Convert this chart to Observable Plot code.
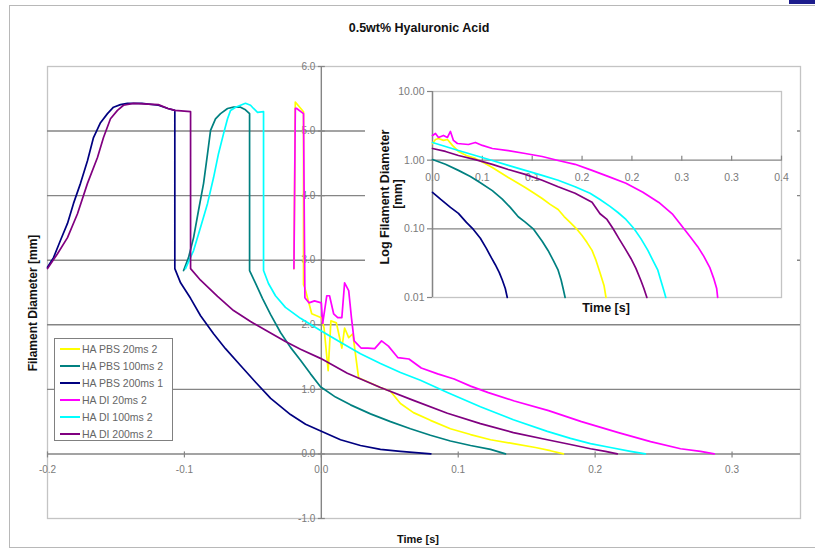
<!DOCTYPE html>
<html>
<head>
<meta charset="utf-8">
<script src="https://cdn.jsdelivr.net/npm/d3@7"></script>
<script src="https://cdn.jsdelivr.net/npm/@observablehq/plot@0.6"></script>
<style>
  html, body { margin: 0; padding: 0; background: #fff; }
  #wrap { position: relative; width: 815px; height: 550px; overflow: hidden; font-family: "Liberation Sans", Arial, sans-serif; }
  .lbl { position: absolute; white-space: nowrap; transform: translate(-50%, -50%); color: #111; font-weight: bold; font-size: 10.5px; }
  .rot { transform: translate(-50%, -50%) rotate(-90deg); }
  #legend { position: absolute; left: 54px; top: 338px; width: 119px; height: 103px; border: 1px solid #808080; background: #fff; box-sizing: border-box; }
  .li { position: absolute; left: 0; height: 14px; width: 118px; }
  .li .sw { position: absolute; left: 5px; top: 6px; width: 20px; height: 2px; }
  .li .tx { position: absolute; left: 27px; top: 0; font-size: 10.5px; line-height: 14px; color: #666; white-space: nowrap; }
</style>
</head>
<body>
<div id="wrap"></div>
<script>
// ---------- data ----------
const chartTitle = "0.5wt% Hyaluronic Acid";
const seriesNames = ["HA PBS 20ms 2", "HA PBS 100ms 2", "HA PBS 200ms 1", "HA DI 20ms 2", "HA DI 100ms 2", "HA DI 200ms 2"];
const seriesColors = ["#ffff00", "#008080", "#000080", "#ff00ff", "#00ffff", "#800080"];

// main chart: [time s, diameter mm]
const haPbs20 = [[-0.0200,2.87],[-0.0190,5.45],[-0.0170,5.40],[-0.0130,5.30],[-0.0130,2.62],[-0.0120,2.57],[-0.0070,2.17],[0.0000,2.11],[0.0020,1.95],[0.0050,1.29],[0.0070,2.06],[0.0110,2.03],[0.0150,1.64],[0.0170,1.95],[0.0200,1.80],[0.0230,1.86],[0.0272,1.18],[0.0432,1.03],[0.0505,0.97],[0.0578,0.78],[0.0673,0.64],[0.0797,0.52],[0.0943,0.39],[0.1090,0.30],[0.1236,0.22],[0.1403,0.16],[0.1564,0.10],[0.1673,0.05],[0.1768,0.00]];
const haPbs100 = [[-0.1006,2.84],[-0.0970,3.04],[-0.0933,3.35],[-0.0897,3.77],[-0.0860,4.19],[-0.0831,4.65],[-0.0809,5.01],[-0.0773,5.19],[-0.0736,5.27],[-0.0685,5.35],[-0.0641,5.37],[-0.0590,5.37],[-0.0554,5.33],[-0.0524,5.27],[-0.0524,2.84],[-0.0480,2.64],[-0.0430,2.41],[-0.0371,2.16],[-0.0298,1.88],[-0.0225,1.65],[-0.0152,1.45],[-0.0079,1.24],[-0.0006,1.04],[0.0104,0.88],[0.0213,0.76],[0.0359,0.62],[0.0505,0.50],[0.0651,0.39],[0.0797,0.29],[0.0943,0.20],[0.1090,0.13],[0.1236,0.07],[0.1345,0.00]];
const haPbs200 = [[-0.2000,2.89],[-0.1956,3.04],[-0.1905,3.31],[-0.1854,3.57],[-0.1810,3.88],[-0.1759,4.19],[-0.1708,4.54],[-0.1664,4.90],[-0.1613,5.13],[-0.1562,5.27],[-0.1518,5.37],[-0.1467,5.41],[-0.1416,5.43],[-0.1310,5.43],[-0.1190,5.40],[-0.1120,5.35],[-0.1070,5.32],[-0.1070,2.87],[-0.1028,2.65],[-0.0955,2.41],[-0.0882,2.14],[-0.0787,1.86],[-0.0700,1.63],[-0.0590,1.37],[-0.0480,1.11],[-0.0370,0.86],[-0.0225,0.61],[-0.0115,0.46],[0.0000,0.35],[0.0140,0.22],[0.0286,0.13],[0.0432,0.07],[0.0578,0.04],[0.0800,0.00]];
const haDi20 = [[-0.0200,2.87],[-0.0190,5.35],[-0.0180,5.35],[-0.0130,5.27],[-0.0120,2.42],[-0.0090,2.34],[-0.0050,2.37],[0.0000,2.34],[0.0010,2.02],[0.0040,2.45],[0.0060,2.45],[0.0090,2.17],[0.0120,2.11],[0.0150,2.11],[0.0170,2.65],[0.0200,2.53],[0.0220,2.11],[0.0240,1.75],[0.0290,1.64],[0.0340,1.64],[0.0390,1.63],[0.0440,1.75],[0.0490,1.67],[0.0560,1.49],[0.0640,1.47],[0.0730,1.33],[0.0850,1.24],[0.0970,1.16],[0.1090,1.05],[0.1220,0.95],[0.1410,0.82],[0.1660,0.67],[0.1900,0.50],[0.2170,0.33],[0.2405,0.19],[0.2624,0.08],[0.2770,0.04],[0.2870,0.00]];
const haDi100 = [[-0.0992,2.87],[-0.0933,3.15],[-0.0882,3.51],[-0.0831,3.88],[-0.0787,4.28],[-0.0751,4.65],[-0.0714,4.96],[-0.0685,5.19],[-0.0663,5.32],[-0.0626,5.37],[-0.0590,5.40],[-0.0554,5.43],[-0.0517,5.40],[-0.0495,5.35],[-0.0466,5.29],[-0.0422,5.30],[-0.0422,2.84],[-0.0386,2.64],[-0.0335,2.45],[-0.0262,2.27],[-0.0152,2.10],[-0.0006,1.91],[0.0140,1.73],[0.0286,1.55],[0.0432,1.40],[0.0578,1.26],[0.0724,1.14],[0.0921,0.95],[0.1162,0.73],[0.1403,0.53],[0.1651,0.35],[0.1820,0.24],[0.1966,0.16],[0.2112,0.10],[0.2258,0.04],[0.2367,0.00]];
const haDi200 = [[-0.2000,2.87],[-0.1927,3.10],[-0.1854,3.35],[-0.1781,3.72],[-0.1708,4.19],[-0.1635,4.59],[-0.1591,4.90],[-0.1540,5.19],[-0.1489,5.32],[-0.1445,5.40],[-0.1372,5.43],[-0.1190,5.41],[-0.1120,5.35],[-0.1070,5.32],[-0.0955,5.30],[-0.0955,2.87],[-0.0882,2.69],[-0.0758,2.44],[-0.0641,2.22],[-0.0517,2.05],[-0.0393,1.90],[-0.0262,1.74],[-0.0152,1.62],[-0.0006,1.48],[0.0190,1.25],[0.0432,1.03],[0.0673,0.83],[0.0921,0.63],[0.1162,0.47],[0.1403,0.33],[0.1651,0.22],[0.1820,0.146],[0.1966,0.08],[0.2075,0.04],[0.2162,0.00]];

// inset (log) chart: [time s, diameter mm]
const logPbs20 = [[0.000,1.75],[0.003,2.00],[0.006,2.07],[0.011,1.94],[0.015,2.00],[0.020,1.64],[0.026,1.34],[0.034,1.17],[0.043,1.06],[0.051,0.925],[0.060,0.78],[0.068,0.66],[0.076,0.56],[0.085,0.47],[0.093,0.40],[0.102,0.33],[0.110,0.277],[0.118,0.227],[0.126,0.191],[0.132,0.151],[0.138,0.124],[0.145,0.098],[0.150,0.080],[0.155,0.063],[0.160,0.0485],[0.164,0.0347],[0.168,0.023],[0.172,0.015],[0.174,0.010]];
const logPbs100 = [[0.000,1.02],[0.013,0.87],[0.026,0.71],[0.038,0.58],[0.048,0.47],[0.060,0.36],[0.070,0.27],[0.078,0.205],[0.086,0.15],[0.093,0.125],[0.101,0.100],[0.110,0.066],[0.116,0.048],[0.121,0.035],[0.126,0.025],[0.129,0.018],[0.131,0.0135],[0.133,0.010]];
const logPbs200 = [[0.000,0.34],[0.008,0.27],[0.018,0.205],[0.026,0.168],[0.034,0.124],[0.041,0.098],[0.048,0.073],[0.054,0.052],[0.059,0.038],[0.063,0.030],[0.067,0.023],[0.070,0.018],[0.073,0.0135],[0.075,0.010]];
const logDi20 = [[0.000,2.29],[0.003,2.45],[0.006,2.14],[0.011,2.29],[0.015,2.14],[0.018,2.62],[0.021,1.94],[0.025,1.75],[0.036,1.69],[0.043,1.81],[0.050,1.64],[0.060,1.48],[0.076,1.38],[0.093,1.25],[0.110,1.13],[0.126,0.99],[0.143,0.87],[0.160,0.71],[0.176,0.58],[0.194,0.46],[0.211,0.34],[0.227,0.242],[0.241,0.162],[0.252,0.101],[0.259,0.075],[0.266,0.055],[0.272,0.040],[0.278,0.0275],[0.282,0.019],[0.285,0.0135],[0.286,0.010]];
const logDi100 = [[0.000,1.81],[0.013,1.58],[0.026,1.38],[0.043,1.17],[0.060,0.99],[0.076,0.84],[0.093,0.71],[0.110,0.60],[0.126,0.51],[0.143,0.41],[0.158,0.33],[0.168,0.268],[0.178,0.212],[0.186,0.173],[0.194,0.137],[0.202,0.101],[0.209,0.072],[0.216,0.0485],[0.221,0.0347],[0.226,0.025],[0.229,0.0177],[0.232,0.0126],[0.234,0.010]];
const logDi200 = [[0.000,1.48],[0.013,1.34],[0.026,1.17],[0.043,1.02],[0.060,0.87],[0.076,0.73],[0.093,0.62],[0.110,0.51],[0.126,0.41],[0.143,0.33],[0.160,0.243],[0.168,0.166],[0.175,0.137],[0.181,0.101],[0.187,0.072],[0.193,0.052],[0.199,0.037],[0.204,0.0265],[0.209,0.0177],[0.212,0.0135],[0.215,0.010]];

// axes
const xTicks = [-0.2, -0.1, 0, 0.1, 0.2, 0.3];
const yTicks = [-1, 0, 1, 2, 3, 4, 5, 6];
const yGrid = [1, 2, 3, 4, 5];
const insetXTicks = [0, 0.05, 0.1, 0.15, 0.2, 0.25, 0.3, 0.35];
const insetXLabels = ["0.0", "0.1", "0.1", "0.2", "0.2", "0.3", "0.3", "0.4"];
const insetYTicks = [0.01, 0.1, 1, 10];
const insetGrid = [0.1, 1];

// ---------- build ----------
const toRows = (list) => list.flatMap((arr, i) => arr.map(([t, d]) => ({series: seriesNames[i], t, d})));
const mainRows = toRows([haPbs20, haPbs100, haPbs200, haDi20, haDi100, haDi200]);
const insetRows = toRows([logPbs20, logPbs100, logPbs200, logDi20, logDi100, logDi200]);

const grid = "#858585";
const tickText = "#7a7a7a";
const font = "Liberation Sans, Arial, sans-serif";

const main = Plot.plot({
  width: 815, height: 550,
  marginLeft: 47, marginRight: 15, marginTop: 66, marginBottom: 32,
  style: {background: "transparent", fontFamily: font},
  x: {domain: [-0.2, 0.35], axis: null},
  y: {domain: [-1, 6], axis: null},
  color: {domain: seriesNames, range: seriesColors},
  marks: [
    Plot.frame({stroke: "#c4c4c4", strokeWidth: 1.3}),
    Plot.ruleY(yGrid, {stroke: grid, strokeWidth: 1.4}),
    Plot.ruleY([0], {stroke: grid, strokeWidth: 1.4}),
    Plot.ruleX([0], {stroke: grid, strokeWidth: 1.4}),
    Plot.ruleX(xTicks, {x: d => d, y1: () => 0, y2: () => 0, insetTop: -2, insetBottom: -4, stroke: grid, strokeWidth: 1.2}),
    Plot.ruleY(yTicks, {y: d => d, x1: () => 0, x2: () => 0, insetLeft: -3, insetRight: -4, stroke: grid, strokeWidth: 1.2}),
    Plot.text(xTicks, {x: d => d, y: () => 0, text: d => d.toFixed(1), dy: 16, fill: tickText, fontSize: 10}),
    Plot.text(yTicks, {x: () => 0, y: d => d, text: d => d.toFixed(1), textAnchor: "end", dx: -6, fill: tickText, fontSize: 10}),
    Plot.line(mainRows, {x: "t", y: "d", z: "series", stroke: "series", strokeWidth: 1.7})
  ]
});
main.style.position = "absolute";
main.style.left = "0px";
main.style.top = "0px";

const inset = Plot.plot({
  width: 432, height: 248,
  marginLeft: 67, marginRight: 16, marginTop: 19, marginBottom: 23,
  style: {background: "#fff", fontFamily: font},
  x: {domain: [0, 0.35], axis: null},
  y: {type: "log", domain: [0.01, 10], axis: null},
  color: {domain: seriesNames, range: seriesColors},
  marks: [
    Plot.frame({stroke: "#c4c4c4", strokeWidth: 1.3}),
    Plot.ruleY(insetGrid, {stroke: grid, strokeWidth: 1.4}),
    Plot.ruleX([0], {stroke: grid, strokeWidth: 1.4}),
    Plot.ruleY(insetYTicks, {y: d => d, x1: () => 0, x2: () => 0, insetLeft: -5, insetRight: 0, stroke: grid, strokeWidth: 1.2}),
    Plot.ruleX(insetXTicks, {x: d => d, y1: () => 1, y2: () => 1, insetTop: -4, insetBottom: -1, stroke: grid, strokeWidth: 1.2}),
    Plot.text(insetXTicks, {x: d => d, y: () => 1, text: (d, i) => insetXLabels[i], dy: 17, fill: tickText, fontSize: 10.5}),
    Plot.text(insetYTicks, {x: () => 0, y: d => d, text: d => d.toFixed(2), textAnchor: "end", dx: -8, fill: tickText, fontSize: 10.5}),
    Plot.line(insetRows, {x: "t", y: "d", z: "series", stroke: "series", strokeWidth: 1.7})
  ]
});
inset.style.position = "absolute";
inset.style.left = "365px";
inset.style.top = "72px";

const wrap = document.getElementById("wrap");

// outer chart-area border
const border = document.createElement("div");
Object.assign(border.style, {position: "absolute", left: "9px", top: "5px", width: "830px", height: "543px", border: "1.5px solid #b8b8b8", boxSizing: "border-box"});
wrap.appendChild(border);
const corner = document.createElement("div");
Object.assign(corner.style, {position: "absolute", left: "789px", top: "0px", width: "26px", height: "4px", background: "#1c1c8c"});
wrap.appendChild(corner);

wrap.appendChild(main);
wrap.appendChild(inset);

function label(text, x, y, cls, size) {
  const el = document.createElement("div");
  el.className = "lbl" + (cls ? " " + cls : "");
  el.textContent = text;
  el.style.left = x + "px";
  el.style.top = y + "px";
  if (size) el.style.fontSize = size + "px";
  wrap.appendChild(el);
  return el;
}
label(chartTitle, 419, 28, "", 12.5);
label("Time [s]", 418, 539, "", 11);
label("Filament Diameter [mm]", 33, 303, "rot", 12);
label("Time [s]", 606, 308, "", 12.5);
label("Log Filament Diameter", 385, 197, "rot", 12.5);
label("[mm]", 398, 194, "rot", 12);

// legend
const legend = document.createElement("div");
legend.id = "legend";
seriesNames.forEach((name, i) => {
  const row = document.createElement("div");
  row.className = "li";
  row.style.top = (3 + i * 16.9) + "px";
  const sw = document.createElement("div");
  sw.className = "sw";
  sw.style.background = seriesColors[i];
  const tx = document.createElement("div");
  tx.className = "tx";
  tx.textContent = name;
  row.appendChild(sw);
  row.appendChild(tx);
  legend.appendChild(row);
});
wrap.appendChild(legend);
</script>
</body>
</html>
